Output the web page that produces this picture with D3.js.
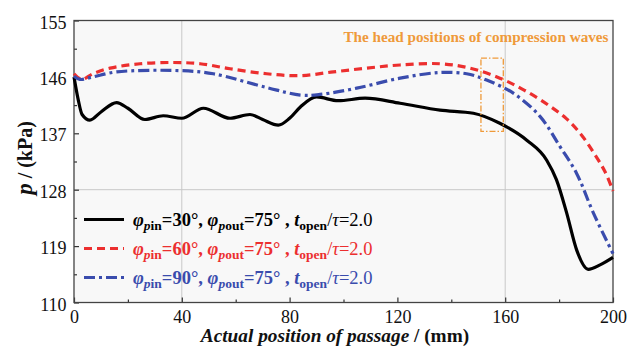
<!DOCTYPE html>
<html>
<head>
<meta charset="utf-8">
<script src="https://cdn.jsdelivr.net/npm/d3@7"></script>
<style>
  html, body { margin: 0; padding: 0; background: #fff; }
  .serif { font-family: "Liberation Serif"; }
</style>
</head>
<body>
<svg id="chart" width="627" height="348"></svg>
<script>
// Pressure along the passage for three inlet port angles
const xTicks = [0, 40, 80, 120, 160, 200];
const yTicks = [110, 119, 128, 137, 146, 155];

const pin30 = [
  [0, 146.0], [1.5, 142.5], [3, 140.0], [5.9, 139.1], [10, 140.4], [15.8, 141.9],
  [20, 141.0], [26.3, 139.2], [33.1, 139.8], [40, 139.4], [48, 141.0],
  [57.9, 139.4], [65.3, 140.0], [70, 139.2], [75.8, 138.3], [80, 139.4],
  [84, 141.2], [90, 142.8], [98, 142.2], [108, 142.6], [121, 141.8],
  [135.8, 140.7], [148.2, 140.2], [158, 138.6], [168, 135.9], [175.4, 132.7],
  [179, 129.6], [182.8, 124.3], [186.5, 118.4], [190.8, 115.3], [195.2, 116.0], [200, 117.2]
];
const pin60 = [
  [0, 146.5], [2.8, 145.6], [7, 146.5], [13.4, 147.4], [24.5, 148.1], [36.8, 148.3],
  [46.8, 148.1], [57.9, 147.3], [71.5, 146.5], [83.9, 146.2], [96.2, 146.8],
  [108.6, 147.4], [121, 147.9], [135.8, 148.1], [146.9, 147.4], [158, 145.8],
  [167, 143.9], [176, 141.5], [182.8, 139.3], [188, 136.9], [193, 133.8],
  [197, 130.9], [200, 127.8]
];
const pin90 = [
  [0, 146.1], [2.2, 145.6], [7, 146.0], [15.8, 146.8], [39.4, 147.0], [51.7, 146.5],
  [71.5, 144.3], [84, 143.1], [91.3, 143.2], [104.9, 144.2], [121, 145.8],
  [135.8, 146.7], [145.7, 146.5], [153.1, 145.5], [163, 143.4], [172.9, 139.7],
  [180.3, 134.9], [186.5, 130.6], [192.7, 124.3], [200, 117.8]
];

const seriesNames = ["30", "60", "90"];
const seriesData = [pin30, pin60, pin90];
const seriesColors = ["#000000", "#ec2f2f", "#3a4cad"];
const seriesDash = [null, "8,5", "11,4,3,4"];

// marked region of the compression wave heads
const headBox = { x0: 151, x1: 159.3, y0: 137.3, y1: 149 };
const headNote = "The head positions of compression waves";

const svg = d3.select("#chart");
const m = { left: 74, right: 613, top: 20.5, bottom: 302.5 };

const x = d3.scaleLinear().domain([0, 200]).range([m.left, m.right]);
const y = d3.scaleLinear().domain([110, 155]).range([m.bottom, m.top]);

// plot background
svg.append("rect")
  .attr("x", m.left).attr("y", m.top)
  .attr("width", m.right - m.left).attr("height", m.bottom - m.top)
  .attr("fill", "#f8f8f8");

// reference lines
const grid = svg.append("g").attr("stroke", "#c8c8c8").attr("stroke-width", 1);
[40, 160].forEach(v => grid.append("line")
  .attr("x1", x(v)).attr("x2", x(v)).attr("y1", m.top).attr("y2", m.bottom));
[128].forEach(v => grid.append("line")
  .attr("x1", m.left).attr("x2", m.right).attr("y1", y(v)).attr("y2", y(v)));

// axes with inward ticks
const xAxis = svg.append("g").attr("transform", `translate(0,${m.bottom})`)
  .call(d3.axisBottom(x).tickValues(xTicks).tickSizeInner(-5).tickSizeOuter(0).tickPadding(8));
const xMinor = svg.append("g").attr("transform", `translate(0,${m.bottom})`)
  .call(d3.axisBottom(x).tickValues(d3.range(20, 200, 40)).tickSizeInner(-3).tickSizeOuter(0).tickFormat(""));
const yAxis = svg.append("g").attr("transform", `translate(${m.left},0)`)
  .call(d3.axisLeft(y).tickValues(yTicks).tickSizeInner(-5).tickSizeOuter(0).tickPadding(7.5));
const yMinor = svg.append("g").attr("transform", `translate(${m.left},0)`)
  .call(d3.axisLeft(y).tickValues(d3.range(114.5, 155, 9)).tickSizeInner(-3).tickSizeOuter(0).tickFormat(""));

[xAxis, xMinor, yAxis, yMinor].forEach(g => {
  g.attr("font-family", null).attr("font-size", 18);
  g.select(".domain").remove();
  g.selectAll("line").attr("stroke", "#333").attr("stroke-width", 1.2);
  g.selectAll("text").attr("class", "serif").attr("fill", "#111");
});
yAxis.selectAll("text").attr("dy", "0.42em");

// frame
svg.append("rect")
  .attr("x", m.left).attr("y", m.top)
  .attr("width", m.right - m.left).attr("height", m.bottom - m.top)
  .attr("fill", "none").attr("stroke", "#444").attr("stroke-width", 1.3);

// curves
const lineMono = d3.line().x(d => x(d[0])).y(d => y(d[1])).curve(d3.curveMonotoneX);
const lineSmooth = d3.line().x(d => x(d[0])).y(d => y(d[1])).curve(d3.curveCatmullRom.alpha(0.5));
const plot = svg.append("g");
seriesData.forEach((data, i) => {
  plot.append("path")
    .datum(data)
    .attr("d", i === 0 ? lineMono : lineSmooth)
    .attr("fill", "none")
    .attr("stroke", seriesColors[i])
    .attr("stroke-width", 3.2)
    .attr("stroke-linejoin", "round")
    .attr("stroke-dasharray", seriesDash[i]);
});

// annotation
svg.append("rect")
  .attr("x", x(headBox.x0)).attr("y", y(headBox.y1))
  .attr("width", x(headBox.x1) - x(headBox.x0))
  .attr("height", y(headBox.y0) - y(headBox.y1))
  .attr("fill", "none").attr("stroke", "#ef9a3a").attr("stroke-width", 1.3)
  .attr("stroke-dasharray", "6,2,1.5,2");
svg.append("text").attr("class", "serif")
  .attr("x", 608.5).attr("y", 41.5).attr("text-anchor", "end")
  .attr("font-size", 15.2).attr("font-weight", "bold").attr("fill", "#ef9a3a")
  .text(headNote);

// legend
const legend = svg.append("g");
const rows = [219.5, 248.5, 277.5];
seriesNames.forEach((name, i) => {
  const g = legend.append("g").attr("transform", `translate(0,${rows[i]})`);
  g.append("line").attr("x1", 84).attr("x2", 124).attr("y1", 0).attr("y2", 0)
    .attr("stroke", seriesColors[i]).attr("stroke-width", 3.2)
    .attr("stroke-dasharray", seriesDash[i]);
  const t = g.append("text").attr("class", "serif").attr("x", 133).attr("y", 6)
    .attr("font-size", 18.5).attr("font-weight", "bold").attr("fill", seriesColors[i]);
  const sub = (a, b) => {
    t.append("tspan").attr("dy", 4).attr("font-size", 13.5).attr("font-style", "italic").text(a);
    t.append("tspan").attr("font-size", 13.5).text(b);
  };
  t.append("tspan").attr("font-style", "italic").text("φ");
  sub("p", "in");
  t.append("tspan").attr("dy", -4).text(`=${name}°, `);
  t.append("tspan").attr("font-style", "italic").text("φ");
  sub("p", "out");
  t.append("tspan").attr("dy", -4).text("=75° , ");
  t.append("tspan").attr("font-style", "italic").text("t");
  t.append("tspan").attr("dy", 4).attr("font-size", 13.5).text("open");
  t.append("tspan").attr("dy", -4).attr("font-weight", "normal").text("/");
  t.append("tspan").attr("font-style", "italic").attr("font-weight", "normal").text("τ");
  t.append("tspan").attr("font-weight", "normal").text("=2.0");
});

// axis titles
const xt = svg.append("text").attr("class", "serif")
  .attr("x", 335).attr("y", 341.5).attr("text-anchor", "middle")
  .attr("font-size", 19.3).attr("font-weight", "bold").attr("fill", "#111");
xt.append("tspan").attr("font-style", "italic").text("Actual position of passage");
xt.append("tspan").text(" / (mm)");

const yt = svg.append("text").attr("class", "serif")
  .attr("transform", `translate(31.5,158) rotate(-90)`)
  .attr("text-anchor", "middle")
  .attr("font-size", 20).attr("font-weight", "bold").attr("fill", "#111");
yt.append("tspan").attr("font-style", "italic").attr("font-size", 23).text("p");
yt.append("tspan").text(" / (kPa)");
</script>
</body>
</html>
